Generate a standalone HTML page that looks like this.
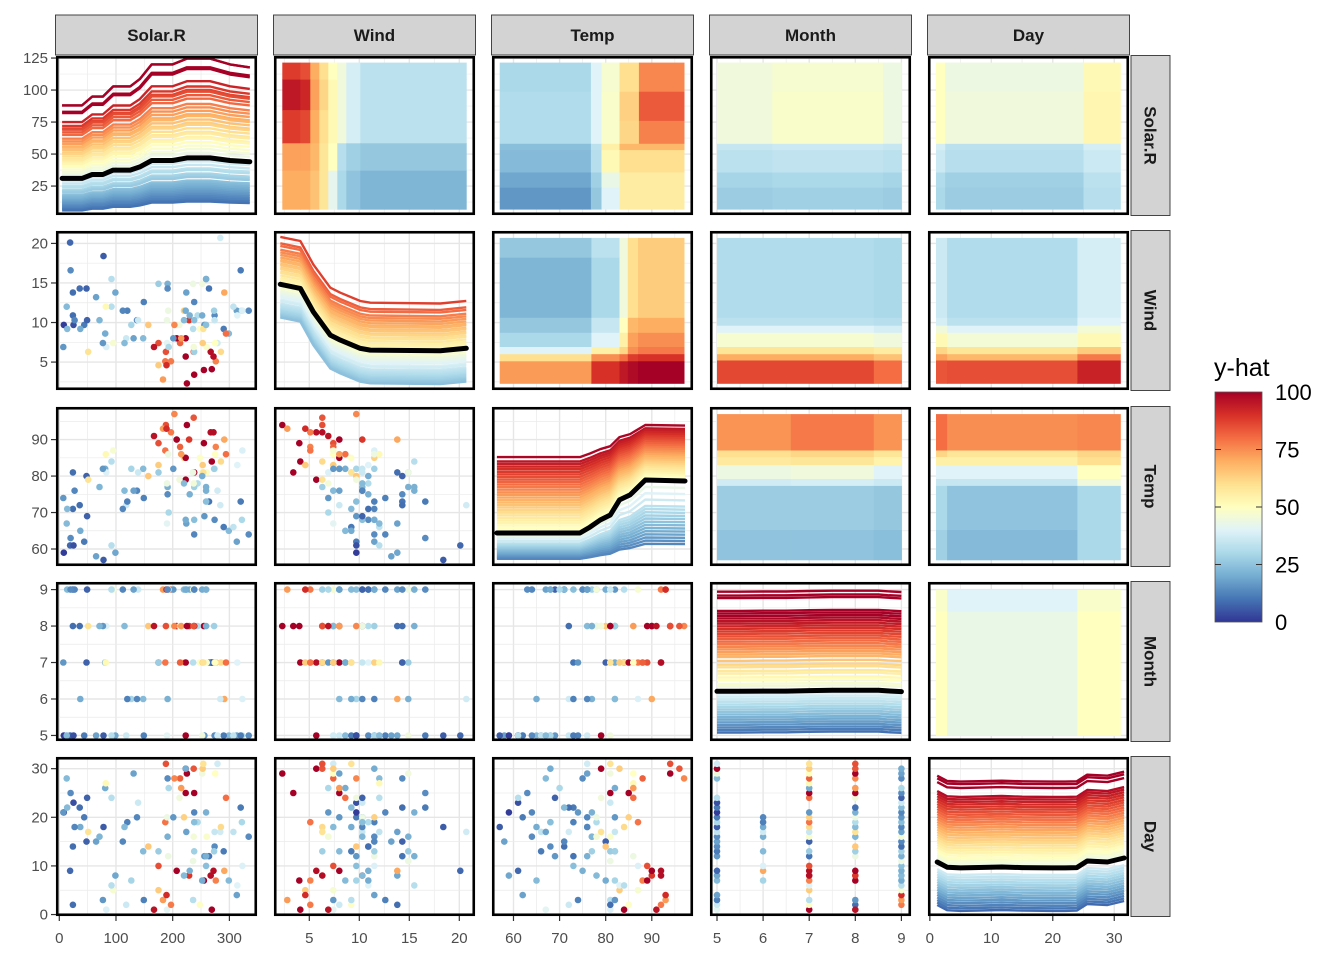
<!DOCTYPE html>
<html><head><meta charset="utf-8"><title>ICE / PDP pairs plot</title>
<style>
html,body{margin:0;padding:0;background:#fff;}
svg{display:block;font-family:"Liberation Sans",Arial,sans-serif;}
</style></head>
<body>
<svg id="chart" width="1344" height="960" viewBox="0 0 1344 960" xmlns="http://www.w3.org/2000/svg">
<defs>
<linearGradient id="yhatGrad" x1="0" y1="1" x2="0" y2="0">
<stop offset="0" stop-color="#313695"/><stop offset="0.1" stop-color="#4575b4"/><stop offset="0.2" stop-color="#74add1"/><stop offset="0.3" stop-color="#abd9e9"/><stop offset="0.4" stop-color="#e0f3f8"/><stop offset="0.5" stop-color="#ffffbf"/><stop offset="0.6" stop-color="#fee090"/><stop offset="0.7" stop-color="#fdae61"/><stop offset="0.8" stop-color="#f46d43"/><stop offset="0.9" stop-color="#d73027"/><stop offset="1" stop-color="#a50026"/>
</linearGradient>
</defs>
<g id="legend">
<text x="1214" y="376" font-size="25" fill="#000">y-hat</text>
<rect x="1215" y="392" width="47" height="230" fill="url(#yhatGrad)" stroke="#555" stroke-width="0.8"/>
</g>
</svg>
<script>
// ---------- data: airquality complete cases ----------
const ozone=[41,36,12,18,23,19,8,16,11,14,18,14,34,6,30,11,1,11,4,32,23,45,115,37,29,71,39,23,21,37,20,12,13,135,49,32,64,40,77,97,97,85,10,27,7,48,35,61,79,63,16,80,108,20,52,82,50,64,59,39,9,16,122,89,110,44,28,65,22,59,23,31,44,21,9,45,168,73,76,118,84,85,96,78,73,91,47,32,20,23,21,24,44,21,28,9,13,46,18,13,24,16,13,23,36,7,14,30,14,18,20];
const solar=[190,118,149,313,299,99,19,256,290,274,65,334,307,78,322,44,8,320,25,92,13,252,223,279,127,291,323,148,191,284,37,120,137,269,248,236,175,314,276,267,272,175,264,175,48,260,274,285,187,220,7,294,223,81,82,213,275,253,254,83,24,77,255,229,207,192,273,157,71,51,115,244,190,259,36,212,238,215,203,225,237,188,167,197,183,189,95,92,252,220,230,259,236,259,238,24,112,237,224,27,238,201,238,14,139,49,20,193,191,131,223];
const wind=[7.4,8.0,12.6,11.5,8.6,13.8,20.1,9.7,9.2,10.9,13.2,11.5,12.0,18.4,11.5,9.7,9.7,16.6,9.7,12.0,12.0,14.9,5.7,7.4,9.7,13.8,11.5,8.0,14.9,20.7,9.2,11.5,10.3,4.1,9.2,9.2,4.6,10.9,5.1,6.3,5.7,7.4,14.3,14.9,14.3,6.9,10.3,6.3,5.1,11.5,6.9,8.6,8.0,8.6,12.0,7.4,7.4,7.4,9.2,6.9,13.8,7.4,4.0,10.3,8.0,11.5,11.5,9.7,10.3,6.3,7.4,10.9,10.3,15.5,14.3,9.7,3.4,8.0,9.7,2.3,6.3,6.3,6.9,5.1,2.8,4.6,7.4,15.5,10.9,10.3,10.9,9.7,14.9,15.5,6.3,10.9,11.5,6.9,13.8,10.3,10.3,8.0,12.6,9.2,10.3,10.3,16.6,6.9,14.3,8.0,11.5];
const temp=[67,72,74,62,65,59,61,69,66,68,58,64,66,57,68,62,59,73,61,61,67,81,79,76,82,90,87,82,77,72,65,73,76,84,85,81,83,83,88,92,92,89,73,81,80,81,82,84,87,85,74,86,85,82,86,88,86,83,81,81,81,82,89,90,90,86,82,80,77,79,76,78,78,77,72,79,81,86,97,94,96,94,91,92,93,93,87,84,80,78,75,73,81,76,77,71,71,78,67,76,68,82,64,71,81,69,63,70,75,76,68];
const month=[5,5,5,5,5,5,5,5,5,5,5,5,5,5,5,5,5,5,5,5,5,5,5,5,6,6,6,6,6,6,6,6,6,7,7,7,7,7,7,7,7,7,7,7,7,7,7,7,7,7,7,7,7,7,7,7,7,7,7,8,8,8,8,8,8,8,8,8,8,8,8,8,8,8,8,8,8,8,8,8,8,8,8,9,9,9,9,9,9,9,9,9,9,9,9,9,9,9,9,9,9,9,9,9,9,9,9,9,9,9,9];
const day=[1,2,3,4,7,8,9,12,13,14,15,16,17,18,19,20,21,22,23,24,28,29,30,31,7,9,10,13,16,17,18,19,20,1,2,3,5,6,7,8,9,10,12,13,15,16,17,18,19,20,21,24,25,26,27,28,29,30,31,1,2,3,7,8,9,12,13,14,16,17,18,19,20,21,22,24,25,26,28,29,30,31,1,2,3,4,5,6,7,8,9,10,11,12,13,14,15,16,17,18,19,20,21,22,23,24,25,26,28,29,30];

// ---------- axis tick labels ----------
const varNames=['Solar.R','Wind','Temp','Month','Day'];
const solarTicks=[0,100,200,300];
const windTicks=[5,10,15,20];
const tempTicks=[60,70,80,90];
const monthTicks=[5,6,7,8,9];
const dayTicks=[0,10,20,30];
const yhatTicks=[25,50,75,100,125];
const legendTicks=[0,25,50,75,100];

// ---------- ICE / partial dependence (diagonal panels) ----------
const iceSolarX=[5,40,58,77,95,125,142,163,200,225,266,301,336];
const iceSolarPdp=[31,31,34,34,37.5,37.5,40,45,45,47,47,45,44];
const iceSolarLevels=[88,88,83,82,75,72,70,69,67,65,62,60,58,56,55,53,51,50,48,46,45,43,42,40,38,36,34,29,27,25,24,22,21,20,18,17,16,15,14,13,12,11,10,9,8,7,6];
const iceWindX=[2.1,4.1,5.4,7.1,8.1,10.1,11.1,18.1,20.7];
const iceWindPdp=[85,81.8,63.5,45.3,41.4,34.9,33.6,33,35];
const iceWindLevels=[122,117,115,112,110,108,106,104,103,101,100,98,97,95,94,92,90,89,88,86,84,82,80,79,78,77,76,75,73,72,70,69,68,67,66,65,64,63,62,61,60,59];
const iceTempX=[56.4,74.4,76.6,78.8,81,83,85.3,88.6,97.2];
const iceTempPdp=[28.2,28.2,32.8,38.3,42.2,54,57.9,69.6,68.8];
const iceTempLevels=[87.5,84,82,80,78,76,74,72,70,68,66,64,62,60,58,56,54,52,50,48,46,44,42,40,38,36,34,32,30,26,24,22,20,19,18,17,16,15,14,13,12,11,10,9,8];
const iceMonthX=[5,5.5,6,6.5,7,7.5,8,8.5,8.7,9];
const iceMonthPdp=[41.2,41.2,41.4,41.4,41.8,42,42,42,41.5,41];
const iceMonthLevels=[119,116,114,104,102,100,98,96,94,92,90,88,86,84,82,80,78,76,74,72,70,68,65,62,60,57,55,52,50,47,45,39,37,35,33,31,29,27,25,23,21,19,17,15,13,11,9];
const iceDayX=[1.2,2.8,5,8,11.7,15,19.9,22,23.9,25.6,28.9,31.6];
const iceDayPdp=[44.6,40.5,40,40.3,40.7,40.2,40,40,40.2,45.4,44.6,47.7];
const iceDayLevels=[112,110,107,100,98,96,94,92,90,88,86,84,82,80,78,76,74,72,70,68,66,64,62,60,58,56,54,52,50,48,46,39,37,35,33,31,29,27,25,23,21,19,17,15,13,11];

// ---------- 2D partial dependence heatmaps (upper panels) ----------
const hmSolarWindX=[2.3,4.1,5.1,6.0,6.9,7.8,8.7,10.1,20.7];
const hmSolarWindY=[334,296,228,154,93,7];
const hmSolarWindZ=[[88,85,70,60,50,45,38,33],[95,92,72,62,52,45,38,33],[88,86,70,60,52,45,38,33],[72,72,68,58,50,32,28,26],[70,70,66,58,42,30,25,22]];
const hmSolarTempX=[57,76.8,79.1,83,87.2,97];
const hmSolarTempY=[334,269,204,153,139,89,55,7];
const hmSolarTempZ=[[30,40,47,60,76],[31,40,48,63,83],[31,40,48,62,77],[24,33,55,68,68],[23,32,52,60,60],[19,28,43,56,56],[16,26,40,56,56]];
const hmSolarMonthX=[5,6.2,8.6,9];
const hmSolarMonthY=[334,269,153,139,89,55,7];
const hmSolarMonthZ=[[45,47,44],[45,48,44],[35,36,35],[33,34,33],[29,30,29],[27,28,27]];
const hmSolarDayX=[1,2.5,25,31];
const hmSolarDayY=[334,269,153,139,89,55,7];
const hmSolarDayZ=[[50,44,52],[50,45,53],[38,33,38],[36,32,36],[31,28,33],[30,27,32]];
const hmWindTempX=[57,76.9,83,84.8,87,97];
const hmWindTempY=[20.7,18.2,10.6,8.7,6.9,6.0,5.1,2.3];
const hmWindTempZ=[[26,33,45,60,64],[22,30,45,60,64],[26,35,50,68,70],[30,40,55,72,75],[40,55,62,75,78],[60,75,80,88,90],[73,90,95,98,100]];
const hmWindMonthX=[5,8.4,9];
const hmWindMonthY=[20.7,10.6,9.6,8.7,6.9,6.0,5.2,2.3];
const hmWindMonthZ=[[31,30],[33,32],[40,38],[47,45],[58,56],[70,66],[86,80]];
const hmWindDayX=[1,2.8,24,31];
const hmWindDayY=[20.7,10.6,9.6,8.7,6.9,6.0,5.2,2.3];
const hmWindDayZ=[[36,31,38],[38,33,40],[45,40,46],[52,46,52],[62,58,64],[72,68,78],[84,85,93]];
const hmTempMonthX=[5,6.6,8.4,9];
const hmTempMonthY=[97,87,85.2,83,79.2,77.3,65.2,57];
const hmTempMonthZ=[[74,78,74],[60,62,58],[57,58,54],[44,45,40],[37,38,36],[27,27,26],[25,25,24]];
const hmTempDayX=[1,2.8,24,31];
const hmTempDayY=[97,87,85.2,83,79.2,77.3,65.2,57];
const hmTempDayZ=[[80,75,76],[62,58,62],[55,55,60],[40,40,50],[35,35,45],[30,25,30],[28,23,30]];
const hmMonthDayX=[1,2.8,24,31];
const hmMonthDayY=[9,8.4,5];
const hmMonthDayZ=[[48,40,48],[50,43,50]];

// ---------- geometry ----------
const colLeft=[56,274,492,710,928], rowTop=[56,231,407,582,757], PW=201, PH=159;
const doms=[[-5.8,348.7],[1.47,21.57],[55.34,98.94],[4.848,9.208],[-0.3,32.4]];
const yhatDom=[2.4,126.6];
const dataVars=[solar,wind,temp,month,day];
const tickSets=[solarTicks,windTicks,tempTicks,monthTicks,dayTicks];
function xs(c,v){const d=doms[c];return colLeft[c]+(v-d[0])/(d[1]-d[0])*PW;}
function ys(r,v){const d=doms[r];return rowTop[r]+(d[1]-v)/(d[1]-d[0])*PH;}
function yh(r,v){return rowTop[r]+(yhatDom[1]-v)/(yhatDom[1]-yhatDom[0])*PH;}

const stops=['#313695','#4575b4','#74add1','#abd9e9','#e0f3f8','#ffffbf','#fee090','#fdae61','#f46d43','#d73027','#a50026'];
function hx(h){return [parseInt(h.slice(1,3),16),parseInt(h.slice(3,5),16),parseInt(h.slice(5,7),16)];}
function colr(v){v=Math.max(0,Math.min(100,v));let t=v/10,i=Math.min(9,Math.floor(t)),f=t-i;const a=hx(stops[i]),b=hx(stops[i+1]);
return 'rgb('+a.map((x,k)=>Math.round(x+(b[k]-x)*f)).join(',')+')';}

const NS='http://www.w3.org/2000/svg';
const svg=document.getElementById('chart');
function mk(tag,attrs,parent){const e=document.createElementNS(NS,tag);for(const k in attrs)e.setAttribute(k,attrs[k]);(parent||svg).appendChild(e);return e;}

const defs=svg.querySelector('defs');
const legendNode=document.getElementById('legend');

const iceSpecs=[[iceSolarX,iceSolarPdp,iceSolarLevels,'solar'],[iceWindX,iceWindPdp,iceWindLevels,'add'],[iceTempX,iceTempPdp,iceTempLevels,'temp'],[iceMonthX,iceMonthPdp,iceMonthLevels,'add'],[iceDayX,iceDayPdp,iceDayLevels,'add']];
const hm={'0,1':[hmSolarWindX,hmSolarWindY,hmSolarWindZ],'0,2':[hmSolarTempX,hmSolarTempY,hmSolarTempZ],'0,3':[hmSolarMonthX,hmSolarMonthY,hmSolarMonthZ],'0,4':[hmSolarDayX,hmSolarDayY,hmSolarDayZ],
'1,2':[hmWindTempX,hmWindTempY,hmWindTempZ],'1,3':[hmWindMonthX,hmWindMonthY,hmWindMonthZ],'1,4':[hmWindDayX,hmWindDayY,hmWindDayZ],
'2,3':[hmTempMonthX,hmTempMonthY,hmTempMonthZ],'2,4':[hmTempDayX,hmTempDayY,hmTempDayZ],'3,4':[hmMonthDayX,hmMonthDayY,hmMonthDayZ]};

function minors(t){const s=t[1]-t[0];const out=[];for(let i=-1;i<t.length;i++)out.push(t[0]+(i+0.5)*s);return out;}

for(let r=0;r<5;r++){for(let c=0;c<5;c++){
  const L=colLeft[c],T=rowTop[r];
  const g=mk('g',{});
  
  
  const cp=mk('clipPath',{id:'cp'+r+c},defs);mk('rect',{x:L,y:T,width:PW,height:PH},cp);
  mk('rect',{x:L,y:T,width:PW,height:PH,fill:'#fff'},g);
  const gg=mk('g',{'clip-path':'url(#cp'+r+c+')'},g);
  const xt=tickSets[c];
  minors(xt).forEach(v=>mk('line',{x1:xs(c,v),x2:xs(c,v),y1:T,y2:T+PH,stroke:'#ebebeb','stroke-width':0.7},gg));
  xt.forEach(v=>mk('line',{x1:xs(c,v),x2:xs(c,v),y1:T,y2:T+PH,stroke:'#e6e6e6','stroke-width':1.4},gg));
  if(r===0){minors(yhatTicks).forEach(v=>mk('line',{x1:L,x2:L+PW,y1:yh(0,v),y2:yh(0,v),stroke:'#ebebeb','stroke-width':0.7},gg));
    yhatTicks.forEach(v=>mk('line',{x1:L,x2:L+PW,y1:yh(0,v),y2:yh(0,v),stroke:'#e6e6e6','stroke-width':1.4},gg));}
  else{const yt=tickSets[r];minors(yt).forEach(v=>mk('line',{x1:L,x2:L+PW,y1:ys(r,v),y2:ys(r,v),stroke:'#ebebeb','stroke-width':0.7},gg));
    yt.forEach(v=>mk('line',{x1:L,x2:L+PW,y1:ys(r,v),y2:ys(r,v),stroke:'#e6e6e6','stroke-width':1.4},gg));}
  if(r===c){
    const [gx,pdp,lv,mode]=iceSpecs[r];const p0=pdp[0];
    const curves=lv.map(l=>{let a=1;if(mode==='solar')a=0.3+0.7*l/p0;
      else if(mode==='temp')a=l<=p0?Math.max(0.15,l/p0):Math.max(0.6,1-0.4*(l-p0)/60);
      return pdp.map(p=>l+a*(p-p0));});
    curves.forEach(cv=>{const m=cv.reduce((s,v)=>s+v,0)/cv.length;
      const pl=mk('polyline',{points:cv.map((v,i)=>xs(c,gx[i]).toFixed(1)+','+yh(r,v).toFixed(1)).join(' '),fill:'none',stroke:colr(m),'stroke-width':2.4,'stroke-linejoin':'round'},gg);
      
      });
    const pd=mk('polyline',{points:pdp.map((v,i)=>xs(c,gx[i]).toFixed(1)+','+yh(r,v).toFixed(1)).join(' '),fill:'none',stroke:'#000','stroke-width':5,'stroke-linejoin':'round','stroke-linecap':'round'},gg);
    
    
  } else if(r<c){
    const [bx,by,z]=hm[r+','+c];
    for(let i=0;i<z.length;i++)for(let j=0;j<z[i].length;j++){
      const x1=xs(c,bx[j]),x2=xs(c,bx[j+1]),y1=ys(r,by[i]),y2=ys(r,by[i+1]);
      const t=mk('rect',{x:x1.toFixed(1),y:y1.toFixed(1),width:(x2-x1+0.4).toFixed(1),height:(y2-y1+0.4).toFixed(1),fill:colr(z[i][j])},gg);
      
      }
  } else {
    const xv=dataVars[c],yv=dataVars[r];
    for(let k=0;k<xv.length;k++){
      const pt=mk('circle',{cx:xs(c,xv[k]).toFixed(1),cy:ys(r,yv[k]).toFixed(1),r:3.3,fill:colr(ozone[k])},gg);
      
      }
  }
  mk('rect',{x:L+1.25,y:T+1.25,width:PW-2.5,height:PH-2.5,fill:'none',stroke:'#000','stroke-width':2.6},g);
}}

for(let c=0;c<5;c++){
  const g=mk('g',{});
  
  
  mk('rect',{x:colLeft[c]-0.5,y:15,width:PW+1,height:40,fill:'#d3d3d3',stroke:'#333','stroke-width':0.9},g);
  const t=mk('text',{x:colLeft[c]+PW/2,y:41,'text-anchor':'middle','font-size':17,'font-weight':'bold',fill:'#1a1a1a'},g);t.textContent=varNames[c];
}
for(let r=0;r<5;r++){
  const g=mk('g',{});
  
  
  mk('rect',{x:1131,y:rowTop[r]-0.5,width:39,height:PH+1,fill:'#d3d3d3',stroke:'#333','stroke-width':0.9},g);
  const cy=rowTop[r]+PH/2;
  const t=mk('text',{x:1150,y:cy,'text-anchor':'middle','dominant-baseline':'central','font-size':17,'font-weight':'bold',fill:'#1a1a1a',transform:'rotate(90 1150 '+cy+')'},g);t.textContent=varNames[r];
}
for(let c=0;c<5;c++){
  const g=mk('g',{});
  
  
  tickSets[c].forEach(v=>{const x=xs(c,v);
    mk('line',{x1:x,x2:x,y1:916,y2:921,stroke:'#333','stroke-width':1.2},g);
    const t=mk('text',{x:x,y:943,'text-anchor':'middle','font-size':15,fill:'#4d4d4d'},g);t.textContent=v;});
}
for(let r=0;r<5;r++){
  const g=mk('g',{});
  
  
  const tk=r===0?yhatTicks:tickSets[r];
  tk.forEach(v=>{const y=r===0?yh(0,v):ys(r,v);
    mk('line',{x1:51,x2:56,y1:y,y2:y,stroke:'#333','stroke-width':1.2},g);
    const t=mk('text',{x:48,y:y+5,'text-anchor':'end','font-size':15,fill:'#4d4d4d'},g);t.textContent=v;});
}
legendTicks.forEach(v=>{const y=622-v/100*230;
  if(v>0&&v<100){mk('line',{x1:1215,x2:1221,y1:y,y2:y,stroke:'#333','stroke-width':1},legendNode);mk('line',{x1:1256,x2:1262,y1:y,y2:y,stroke:'#333','stroke-width':1},legendNode);}
  const t=mk('text',{x:1275,y:y+8,'font-size':22,fill:'#000'},legendNode);
  
  
  t.textContent=v;});
</script>
</body></html>
